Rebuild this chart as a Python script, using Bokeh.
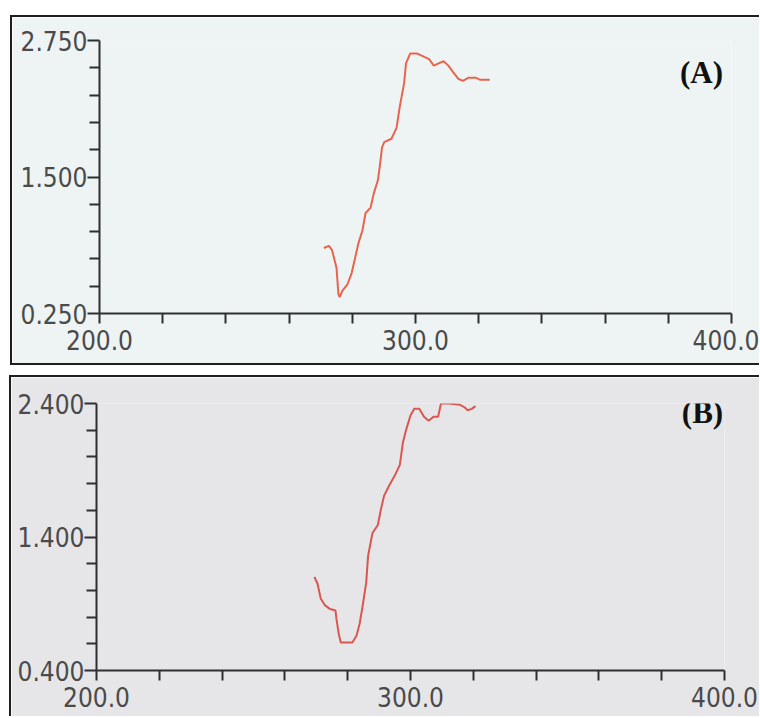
from bokeh.plotting import figure
from bokeh.models import FixedTicker, Label, Column, Row, Spacer
from bokeh.embed import file_html
from bokeh.resources import INLINE

# ---- data: panel (A)
wl_a = [271.0, 272.6, 273.6, 275.0, 275.6, 276.0, 276.9, 278.5, 279.8, 280.9, 281.9,
        283.2, 284.2, 285.8, 286.8, 288.1, 288.8, 289.4, 290.1, 292.4, 294.0, 295.0,
        296.4, 297.0, 298.3, 300.6, 302.8, 304.3, 305.8, 307.3, 308.9, 310.4, 311.9,
        313.5, 315.0, 316.8, 319.0, 320.5, 323.5]
abs_a = [0.85, 0.87, 0.83, 0.67, 0.43, 0.40, 0.46, 0.52, 0.62, 0.76, 0.89,
         1.01, 1.17, 1.22, 1.35, 1.47, 1.62, 1.77, 1.82, 1.85, 1.95, 2.14,
         2.36, 2.54, 2.63, 2.63, 2.60, 2.58, 2.52, 2.54, 2.56, 2.52, 2.46,
         2.40, 2.38, 2.41, 2.41, 2.39, 2.39]

# ---- data: panel (B)
wl_b = [269.4, 270.4, 271.4, 272.7, 274.4, 276.1, 276.4, 277.1, 277.8, 279.8, 281.5,
        282.8, 283.8, 284.8, 285.9, 286.5, 287.9, 289.6, 290.6, 291.6, 293.3, 295.0,
        296.6, 297.6, 298.7, 300.0, 301.2, 302.8, 304.3, 305.8, 307.3, 308.8, 309.7,
        312.2, 315.8, 317.3, 318.2, 319.5, 320.7]
abs_b = [1.10, 1.05, 0.94, 0.89, 0.86, 0.85, 0.79, 0.68, 0.61, 0.61, 0.61,
         0.66, 0.75, 0.89, 1.06, 1.26, 1.43, 1.49, 1.61, 1.71, 1.79, 1.86,
         1.94, 2.11, 2.21, 2.31, 2.36, 2.36, 2.30, 2.27, 2.30, 2.30, 2.40,
         2.40, 2.39, 2.37, 2.35, 2.36, 2.38]

x_major = [200, 300, 400]
x_minor = [220, 240, 260, 280, 320, 340, 360, 380]
x_labels = {200: "200.0", 300: "300.0", 400: "400.0"}

ya_major = [0.25, 1.5, 2.75]
ya_minor = [0.5, 0.75, 1.0, 1.25, 1.75, 2.0, 2.25, 2.5]
ya_labels = {0.25: "0.250", 1.5: "1.500", 2.75: "2.750"}

yb_major = [0.4, 1.4, 2.4]
yb_minor = [0.6, 0.8, 1.0, 1.2, 1.6, 1.8, 2.0, 2.2]
yb_labels = {0.4: "0.400", 1.4: "1.400", 2.4: "2.400"}

TICK_FONT = "DejaVu Sans Condensed"
BORDER = "2px solid #1e1e1e"


def make_panel(xs, ys, y_major, y_minor, y_labels, tag, tag_xy, bg, line_color,
               width, height, mbl, mbr, mbt, mbb, css):
    p = figure(width=width, height=height, x_range=(200, 400),
               y_range=(y_major[0], y_major[-1]),
               output_backend="svg", toolbar_location=None,
               background_fill_color=bg, border_fill_color=bg,
               min_border_left=mbl, min_border_right=mbr,
               min_border_top=mbt, min_border_bottom=mbb,
               styles=css)
    p.outline_line_color = None
    p.grid.visible = False
    p.line(xs, ys, line_color=line_color, line_width=2)

    for ax in (p.xaxis[0], p.yaxis[0]):
        ax.axis_line_color = "#2f2f2f"
        ax.axis_line_width = 2
        ax.major_tick_line_color = "#2f2f2f"
        ax.minor_tick_line_color = "#2f2f2f"
        ax.major_tick_line_width = 2
        ax.minor_tick_line_width = 2
        ax.major_tick_in = 0
        ax.minor_tick_in = 0
        ax.major_label_text_font = TICK_FONT
        ax.major_label_text_font_size = "26px"
        ax.major_label_text_color = "#4a4a4a"

    xa = p.xaxis[0]
    xa.ticker = FixedTicker(ticks=x_major, minor_ticks=x_minor)
    xa.major_label_overrides = x_labels
    xa.major_tick_out = 10
    xa.minor_tick_out = 10
    xa.major_label_standoff = 6

    ya = p.yaxis[0]
    ya.ticker = FixedTicker(ticks=y_major, minor_ticks=y_minor)
    ya.major_label_overrides = y_labels
    ya.major_tick_out = 12
    ya.minor_tick_out = 10
    ya.major_label_standoff = 0
    ya.major_label_orientation = "horizontal"

    p.add_layout(Label(x=tag_xy[0], y=tag_xy[1], text=tag,
                       text_font="Liberation Serif", text_font_style="bold",
                       text_font_size="31px", text_color="#111111",
                       text_align="center", text_baseline="middle"))
    return p


pA = make_panel(wl_a, abs_a, ya_major, ya_minor, ya_labels, "(A)", (390.5, 2.457),
                "#eef4f4", "#e8644f",
                width=749, height=350, mbl=87, mbr=30, mbt=23, mbb=54,
                css={"border-top": BORDER, "border-left": BORDER, "border-bottom": BORDER})

pB = make_panel(wl_b, abs_b, yb_major, yb_minor, yb_labels, "(B)", (393.0, 2.33),
                "#e6e6e8", "#da5650",
                width=750, height=341, mbl=85, mbr=37, mbt=26, mbb=48,
                css={"border-top": BORDER, "border-left": BORDER})

layout = Column(children=[
    Spacer(width=10, height=15),
    Row(children=[Spacer(width=10, height=10), pA], spacing=0),
    Spacer(width=10, height=10),
    Row(children=[Spacer(width=9, height=10), pB], spacing=0),
], spacing=0)

with open("out.html", "w") as f:
    f.write(file_html(layout, INLINE))
